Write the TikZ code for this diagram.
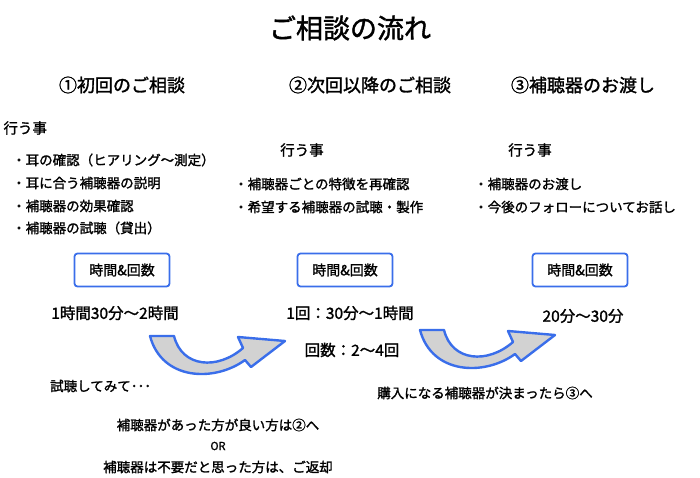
\documentclass[tikz,border=0pt]{standalone}
\usepackage{fontspec}
\setmainfont{Noto Sans CJK JP}[FakeBold=1.5]
\usetikzlibrary{positioning}
\definecolor{flowBlue}{HTML}{3A6EEA}
\tikzstyle{headbox}=[draw=flowBlue, line width=1.8pt, rounded corners=3pt, minimum width=95pt, minimum height=33pt, font=\fontsize{14}{16}\selectfont]
\tikzstyle{itemtext}=[anchor=west, font=\fontsize{13.5}{15}\selectfont, inner sep=0pt]
\tikzstyle{bigarrow}=[draw=flowBlue, line width=2.4pt, fill=gray!35, line join=round]
\newcommand{\flowarrow}[1]{%
  \draw[bigarrow, shift={#1}] (0,0) .. controls (12,45) and (65,46) .. (95,24)
    -- (101,31) -- (135,5) -- (88,1) -- (93,12)
    .. controls (68,34) and (32,32) .. (24,0) -- cycle;}
\begin{document}
\begin{tikzpicture}[x=1pt,y=-1pt]
  \useasboundingbox (0,0) rectangle (700,478);

  % タイトル
  \node (title) at (350,28) {\fontsize{27}{30}\selectfont ご相談の流れ};

  % 見出し
  \node (h1) at (122,85) {\fontsize{18}{20}\selectfont ①初回のご相談};
  \node (h2) at (370,85) {\fontsize{18}{20}\selectfont ②次回以降のご相談};
  \node (h3) at (583,85) {\fontsize{18}{20}\selectfont ③補聴器のお渡し};

  % 行う事
  \node[anchor=west] (do1) at (0,128) {\fontsize{14.5}{16}\selectfont 行う事};
  \node (do2) at (302,150) {\fontsize{14.5}{16}\selectfont 行う事};
  \node (do3) at (530,150) {\fontsize{14.5}{16}\selectfont 行う事};

  \node[itemtext] (a1) at (12,160) {・耳の確認（ヒアリング～測定）};
  \node[itemtext] (a2) at (12,183) {・耳に合う補聴器の説明};
  \node[itemtext] (a3) at (12,206) {・補聴器の効果確認};
  \node[itemtext] (a4) at (12,228) {・補聴器の試聴（貸出）};
  \node[itemtext] (b1) at (234,184) {・補聴器ごとの特徴を再確認};
  \node[itemtext] (b2) at (234,207) {・希望する補聴器の試聴・製作};
  \node[itemtext] (c1) at (474,184) {・補聴器のお渡し};
  \node[itemtext] (c2) at (474,207) {・今後のフォローについてお話し};

  % 時間&回数
  \node[headbox] (box1) at (122,270) {時間\&回数};
  \node[headbox] (box2) at (345,270) {時間\&回数};
  \node[headbox] (box3) at (580,270) {時間\&回数};

  \node (t1) at (115,313) {\fontsize{15.5}{17}\selectfont 1時間30分～2時間};
  \node (t2) at (350,313) {\fontsize{15.5}{17}\selectfont 1回：30分～1時間};
  \node (t3) at (583,316) {\fontsize{15.5}{17}\selectfont 20分～30分};
  \node (n2) at (352,350) {\fontsize{15.5}{17}\selectfont 回数：2～4回};

  % 矢印
  \flowarrow{(150,336)}
  \flowarrow{(420,330)}

  % 説明文
  \node[itemtext] (try) at (50,386) {試聴してみて･･･};
  \node (go2) at (218,425) {\fontsize{13.5}{15}\selectfont 補聴器があった方が良い方は②へ};
  \node (or) at (218,446) {\fontsize{11}{12}\selectfont OR};
  \node (ret) at (218,467) {\fontsize{13.5}{15}\selectfont 補聴器は不要だと思った方は、ご返却};
  \node (go3) at (485,393) {\fontsize{13.5}{15}\selectfont 購入になる補聴器が決まったら③へ};
\end{tikzpicture}
\end{document}
